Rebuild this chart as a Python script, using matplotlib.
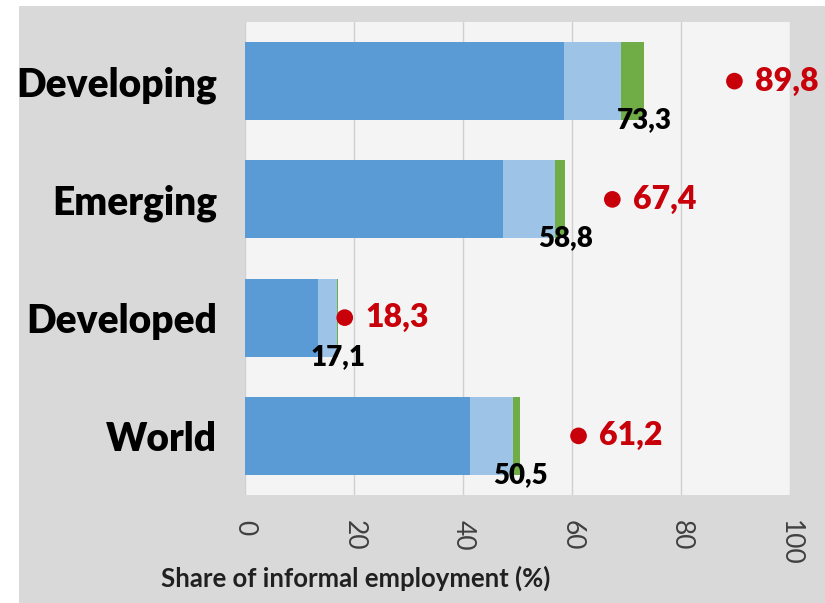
"""Share of informal employment: stacked horizontal bars with red marker values."""

import matplotlib

matplotlib.use("Agg")
import matplotlib.pyplot as plt
from matplotlib.patches import Rectangle

plt.rcParams["font.family"] = ["Lato", "DejaVu Sans"]

groups = ["Developing", "Emerging", "Developed", "World"]
seg_dark = [58.6, 47.4, 13.4, 41.2]
seg_light = [10.3, 9.4, 3.5, 8.0]
seg_green = [4.4, 2.0, 0.2, 1.3]
totals = [73.3, 58.8, 17.1, 50.5]
dots = [89.8, 67.4, 18.3, 61.2]
xticks = [0, 20, 40, 60, 80, 100]

DARK = "#5B9BD5"
LIGHT = "#9DC3E6"
GREEN = "#70AD47"
RED = "#C8000A"

fig = plt.figure(figsize=(8.25, 6.03), dpi=100, facecolor="white")
fig.patches.append(Rectangle((19 / 825, 0), 1, 1 - 6 / 603, transform=fig.transFigure,
                             facecolor="#D9D9D9", edgecolor="none", zorder=-10))
ax = fig.add_axes([245 / 825, 1 - 495 / 603, 545 / 825, 473 / 603])
ax.set_facecolor("#F4F4F4")

y = list(range(len(groups)))
h = 0.66
ax.barh(y, seg_dark, height=h, color=DARK, zorder=2)
ax.barh(y, seg_light, left=seg_dark, height=h, color=LIGHT, zorder=2)
left3 = [a + b for a, b in zip(seg_dark, seg_light)]
ax.barh(y, seg_green, left=left3, height=h, color=GREEN, zorder=2)

ax.scatter(dots, y, s=12 ** 2, color=RED, zorder=3, edgecolors="none")
for yi, v in zip(y, dots):
    ax.annotate(f"{v:.1f}".replace(".", ","), (v, yi), xytext=(15, 0),
                textcoords="offset points", ha="left", va="center",
                color=RED, fontsize=23, fontweight="heavy")
for yi, t in zip(y, totals):
    ax.text(t, yi + h / 2, f"{t:.1f}".replace(".", ","), ha="center", va="center",
            color="black", fontsize=20, fontweight="heavy", zorder=4)

ax.set_xlim(0, 100)
ax.set_ylim(3.5, -0.5)
ax.set_xticks(xticks)
ax.set_xticklabels([str(t) for t in xticks], rotation=-90, fontsize=19, color="#404040")
ax.set_yticks(y)
ax.set_yticklabels(groups, fontsize=28, fontweight="heavy", color="black")
ax.tick_params(length=0)
ax.tick_params(axis="x", pad=18)
ax.tick_params(axis="y", pad=20)
ax.grid(axis="x", color="#D0D0D0", lw=1, zorder=0)
for s in ax.spines.values():
    s.set_visible(False)

fig.text(356 / 825, 1 - 578 / 603, "Share of informal employment (%)", ha="center",
         va="center", fontsize=18.5, fontweight="bold", color="#202020")

fig.savefig("out.png", dpi=100, facecolor=fig.get_facecolor())
